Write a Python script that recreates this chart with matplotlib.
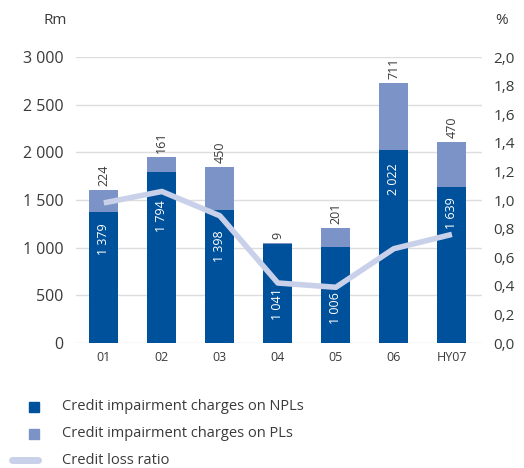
import matplotlib.pyplot as plt
from matplotlib.lines import Line2D
from matplotlib.patches import Rectangle

plt.rcParams['font.family'] = ['Open Sans', 'DejaVu Sans']

periods = ['01', '02', '03', '04', '05', '06', 'HY07']
npl = [1379, 1794, 1398, 1041, 1006, 2022, 1639]
pl = [224, 161, 450, 9, 201, 711, 470]
loss_ratio = [0.98, 1.06, 0.89, 0.42, 0.39, 0.66, 0.76]
# top of each white in-bar label (Rm), kept clear of the ratio line
npl_label_top = [1259, 1500, 1186, 577, 535, 1889, 1532]

dark = '#00519b'
light = '#7b93c6'
line_col = '#c9d1ea'
text_col = '#3a3a3a'

def fmt(v):
    return f'{v:,}'.replace(',', ' ')

fig = plt.figure(figsize=(5.24, 4.68), dpi=100)
ax = fig.add_axes([0.145, 0.267, 0.775, 0.611])
x = list(range(len(periods)))

ax.bar(x, npl, width=0.5, color=dark, zorder=2)
ax.bar(x, pl, width=0.5, bottom=npl, color=light, zorder=2)

ax.set_ylim(0, 3000)
ax.set_xlim(-0.48, 6.52)
ax.set_yticks(range(0, 3001, 500))
ax.set_yticklabels([fmt(v) for v in range(0, 3001, 500)])
ax.set_xticks(x)
ax.set_xticklabels(periods)
ax.grid(axis='y', color='#dddddd', linewidth=1, zorder=0)
for s in ax.spines.values():
    s.set_visible(False)
ax.tick_params(length=0, colors=text_col, labelsize=11.5)
ax.tick_params(axis='x', labelsize=9, pad=6)
ax.tick_params(axis='y', pad=9)

ax2 = ax.twinx()
ax2.plot(x, loss_ratio, color=line_col, linewidth=4, solid_capstyle='butt', zorder=3)
ax2.set_ylim(0, 2.0)
ax2.set_yticks([i / 5 for i in range(11)])
ax2.set_yticklabels([f'{i / 5:.1f}'.replace('.', ',') for i in range(11)])
for s in ax2.spines.values():
    s.set_visible(False)
ax2.tick_params(length=0, colors=text_col, labelsize=11, pad=8)
ax.set_zorder(1)
ax2.set_zorder(2)
ax.patch.set_visible(False)
ax2.patch.set_visible(False)

for xi, a, b, top in zip(x, npl, pl, npl_label_top):
    ax2.text(xi, top, fmt(a), rotation=90, ha='center', va='top',
             color='white', fontsize=9, zorder=4, transform=ax.transData)
    ax2.text(xi, a + b + 40, fmt(b), rotation=90, ha='center', va='bottom',
             color=text_col, fontsize=9, transform=ax.transData)

fig.text(55 / 524, 1 - 20 / 468, 'Rm', ha='center', va='center', color=text_col, fontsize=11)
fig.text(502 / 524, 1 - 20 / 468, '%', ha='center', va='center', color=text_col, fontsize=11)

# legend
legend_items = [('Credit impairment charges on NPLs', dark, 'box'),
                ('Credit impairment charges on PLs', light, 'box'),
                ('Credit loss ratio', line_col, 'line')]
for i, (label, col, kind) in enumerate(legend_items):
    yy = 1 - (407 + 26.5 * i) / 468
    if kind == 'box':
        fig.patches.append(Rectangle((29 / 524, yy - 5 / 468), 10 / 524, 10 / 468,
                                     color=col, transform=fig.transFigure))
    else:
        fig.lines.append(Line2D([12 / 524, 38 / 524], [yy, yy], color=col, linewidth=5,
                                solid_capstyle='round', transform=fig.transFigure))
    fig.text(62 / 524, yy, label, ha='left', va='center', color=text_col, fontsize=10.5)

fig.savefig('out.png', dpi=100)
